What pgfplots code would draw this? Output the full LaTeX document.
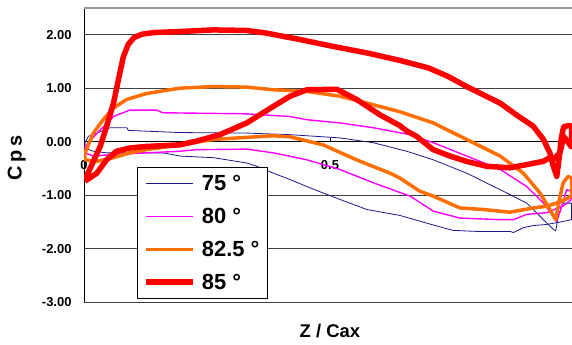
\documentclass[border=0pt]{standalone}
\usepackage{pgfplots}
\pgfplotsset{compat=1.18}
\usepackage{fontspec}
\setmainfont{Liberation Sans}
\definecolor{navyc}{RGB}{25,25,140}
\definecolor{magc}{RGB}{255,0,255}
\definecolor{orc}{RGB}{255,110,0}
\definecolor{redc}{RGB}{255,0,0}
\begin{document}
\begin{tikzpicture}
\begin{axis}[
  at={(84bp,43bp)}, anchor=south west,
  scale only axis, width=488bp, height=294bp,
  xmin=0, xmax=0.992, ymin=-3, ymax=2.5,
  axis y line*=left, axis x line*=middle,
  hide obscured x ticks=false, hide obscured y ticks=false,
  axis line style={line width=1bp, black},
  ytick={-3,-2,-1,0,1,2},
  ymajorgrids,
  major grid style={line width=1bp, black!75},
  extra y ticks={2.5}, extra y tick labels={},
  extra y tick style={grid=major, major grid style={line width=1.5bp, gray!80}, tick style={draw=none}},
  xtick={0,0.5}, xticklabels={0,0.5},
  ytick style={draw=none},
  xtick style={black, line width=0.8bp},
  major tick length=4bp, tick align=inside,
  yticklabel style={font=\fontsize{13}{15}\selectfont\bfseries, xshift=-9bp, /pgf/number format/.cd, fixed, fixed zerofill, precision=2},
  xticklabel style={font=\fontsize{13}{15}\selectfont\bfseries, yshift=-15bp},
  /pgf/number format/assume math mode=true,
  xlabel={Z / Cax}, ylabel={C\,p\,s},
  xlabel style={font=\fontsize{18.5}{20}\selectfont\bfseries, at={(axis description cs:0.504,-0.097)}, anchor=center},
  ylabel style={font=\fontsize{20}{22}\selectfont\bfseries, at={(axis description cs:-0.138,0.49)}, anchor=center},
  legend style={at={(0.1086,0.459)}, anchor=north west, draw=black, line width=0.8bp, fill=white,
    inner xsep=6bp, inner ysep=6bp, row sep=12bp, column sep=4bp,
    font=\fontsize{22}{24}\selectfont\bfseries, cells={anchor=west}},
  legend image code/.code={\draw[#1] (0bp,0bp) -- (47bp,0bp);},
]
\addplot[navyc, line width=0.8bp, line join=round] coordinates {
(0.002,-0.02)(0.009,0.10)(0.026,0.16)(0.053,0.26)(0.087,0.26)(0.09,0.21)(0.195,0.17)(0.331,0.16)(0.419,0.13)(0.52,0.07)(0.588,-0.02)(0.656,-0.18)(0.71,-0.34)(0.778,-0.59)(0.846,-0.90)(0.90,-1.15)(0.934,-1.46)(0.954,-1.64)(0.959,-1.67)(0.964,-1.40)(0.974,-1.15)(0.991,-1.15)
(0.991,-1.46)(0.97,-1.50)(0.94,-1.55)(0.913,-1.57)(0.893,-1.61)(0.873,-1.70)(0.866,-1.68)(0.80,-1.68)(0.75,-1.66)(0.71,-1.56)(0.642,-1.38)(0.575,-1.27)(0.52,-1.08)(0.486,-0.96)(0.453,-0.84)(0.419,-0.71)(0.385,-0.59)(0.351,-0.46)(0.331,-0.40)(0.263,-0.30)(0.195,-0.27)(0.161,-0.21)(0.093,-0.21)(0.046,-0.21)(0.019,-0.18)(0.002,-0.12)(0.002,-0.02)
};
\addlegendentry{75 °}
\addplot[magc, line width=1.4bp, line join=round] coordinates {
(0.002,-0.09)(0.033,0.22)(0.06,0.47)(0.093,0.59)(0.148,0.59)(0.16,0.54)(0.331,0.52)(0.419,0.47)(0.453,0.41)(0.52,0.35)(0.588,0.26)(0.663,0.13)(0.71,-0.02)(0.778,-0.27)(0.846,-0.52)(0.90,-0.84)(0.934,-1.15)(0.954,-1.40)(0.961,-1.49)(0.971,-1.21)(0.981,-0.90)(0.991,-0.93)
(0.991,-1.08)(0.975,-1.20)(0.94,-1.33)(0.90,-1.36)(0.873,-1.46)(0.846,-1.46)(0.764,-1.43)(0.71,-1.30)(0.663,-1.02)(0.588,-0.77)(0.52,-0.52)(0.453,-0.34)(0.385,-0.21)(0.331,-0.14)(0.229,-0.15)(0.195,-0.18)(0.127,-0.21)(0.06,-0.24)(0.019,-0.27)(0.002,-0.21)(0.002,-0.09)
};
\addlegendentry{80 °}
\addplot[orc, line width=3.5bp, line join=round] coordinates {
(0.002,-0.21)(0.019,0.16)(0.039,0.41)(0.06,0.63)(0.087,0.79)(0.127,0.90)(0.195,1.00)(0.263,1.03)(0.331,1.02)(0.385,0.97)(0.453,0.94)(0.52,0.85)(0.588,0.69)(0.642,0.56)(0.71,0.35)(0.778,0.04)(0.846,-0.27)(0.893,-0.59)(0.927,-0.96)(0.947,-1.27)(0.959,-1.46)(0.966,-1.10)(0.974,-0.77)(0.984,-0.65)(0.991,-0.68)
(0.991,-1.02)(0.97,-1.12)(0.94,-1.21)(0.913,-1.24)(0.866,-1.32)(0.812,-1.27)(0.764,-1.24)(0.71,-1.02)(0.683,-0.93)(0.642,-0.68)(0.622,-0.59)(0.554,-0.34)(0.486,-0.06)(0.419,0.09)(0.385,0.11)(0.331,0.08)(0.263,0.04)(0.195,-0.06)(0.127,-0.15)(0.093,-0.21)(0.06,-0.30)(0.026,-0.37)(0.002,-0.34)(0.002,-0.21)
};
\addlegendentry{82.5 °}
\addplot[redc, line width=5.5bp, line join=round] coordinates {
(0.002,-0.71)(0.033,-0.09)(0.046,0.29)(0.06,0.72)(0.070,1.16)(0.080,1.59)(0.090,1.82)(0.102,1.95)(0.118,2.01)(0.141,2.04)(0.195,2.06)(0.263,2.09)(0.33,2.08)(0.371,2.03)(0.439,1.91)(0.507,1.78)(0.575,1.66)(0.642,1.52)(0.70,1.38)(0.74,1.22)(0.778,1.03)(0.846,0.72)(0.879,0.50)(0.913,0.29)(0.934,0.04)(0.947,-0.21)(0.954,-0.46)(0.961,-0.65)(0.966,-0.30)(0.970,0.05)(0.975,0.28)(0.985,0.30)(0.991,0.29)
(0.991,-0.10)(0.975,0.10)(0.968,-0.20)(0.955,-0.33)(0.947,-0.30)(0.933,-0.37)(0.90,-0.43)(0.866,-0.49)(0.818,-0.46)(0.778,-0.37)(0.744,-0.27)(0.71,-0.15)(0.676,0.10)(0.656,0.20)(0.642,0.30)(0.602,0.50)(0.554,0.79)(0.514,0.98)(0.453,0.97)(0.419,0.85)(0.385,0.66)(0.331,0.35)(0.276,0.13)(0.229,0.01)(0.195,-0.06)(0.127,-0.09)(0.093,-0.12)(0.066,-0.18)(0.046,-0.34)(0.026,-0.59)(0.002,-0.74)
};
\addlegendentry{85 °}
\end{axis}
\pgfresetboundingbox
\path[use as bounding box] (0,0) rectangle (572bp,345bp);
\end{tikzpicture}
\end{document}
